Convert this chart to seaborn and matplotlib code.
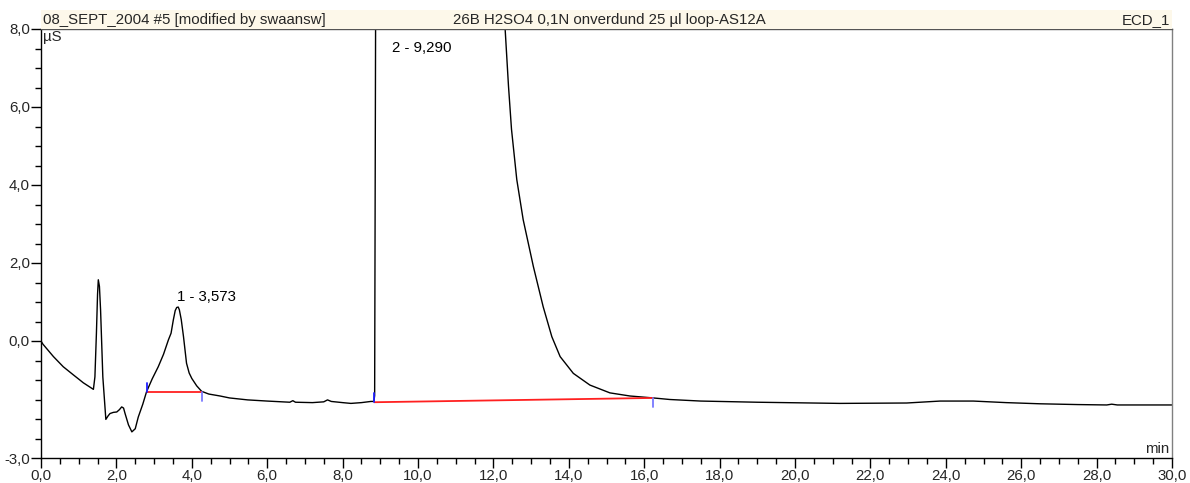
import numpy as np
import matplotlib
matplotlib.use("Agg")
import matplotlib.pyplot as plt
from matplotlib.patches import Rectangle
from matplotlib.ticker import FuncFormatter, FixedLocator
import seaborn as sns
import pandas as pd

# ---------------- data ----------------
time_min = [0.0, 0.05, 0.33, 0.59, 0.86, 1.03, 1.12, 1.39, 1.43, 1.47, 1.50, 1.52, 1.55,
            1.58, 1.64, 1.72, 1.78, 1.83, 1.92, 2.01, 2.08, 2.14, 2.19, 2.23, 2.32,
            2.41, 2.50, 2.58, 2.70, 2.80, 2.95, 3.11, 3.25, 3.38, 3.45, 3.51, 3.56,
            3.60, 3.64, 3.67, 3.72, 3.78, 3.86, 3.93, 4.00, 4.13, 4.26, 4.45, 4.75,
            5.0, 5.48, 6.0, 6.60, 6.68, 6.75, 7.2, 7.5, 7.6, 7.7, 8.0, 8.22, 8.5,
            8.75, 8.83, 8.85, 8.88, 9.29, 12.0, 12.2, 12.31, 12.40, 12.48, 12.62,
            12.79, 13.06, 13.32, 13.55, 13.77, 14.12, 14.56, 15.09, 15.62, 16.24,
            16.68, 17.5, 19.0, 21.19, 22.96, 23.85, 24.73, 25.6, 26.5, 27.5, 28.27,
            28.4, 28.55, 30.0]
signal_uS = [0.0, -0.08, -0.40, -0.66, -0.87, -1.00, -1.07, -1.24, -0.92, 0.20, 1.20,
             1.57, 1.40, 0.80, -0.92, -2.01, -1.92, -1.86, -1.83, -1.82, -1.76, -1.69,
             -1.72, -1.86, -2.15, -2.33, -2.25, -1.95, -1.62, -1.30, -0.97, -0.66,
             -0.34, 0.03, 0.20, 0.54, 0.78, 0.86, 0.87, 0.80, 0.55, 0.11, -0.57,
             -0.82, -0.96, -1.15, -1.29, -1.36, -1.41, -1.46, -1.51, -1.54, -1.57,
             -1.53, -1.57, -1.58, -1.56, -1.51, -1.55, -1.58, -1.60, -1.58, -1.55,
             -1.55, -1.40, 10.0, 40.0, 12.0, 9.5, 8.02, 6.54, 5.43, 4.14, 3.11, 1.91,
             0.88, 0.11, -0.40, -0.83, -1.13, -1.33, -1.41, -1.46, -1.50, -1.54,
             -1.57, -1.60, -1.59, -1.54, -1.54, -1.58, -1.61, -1.63, -1.64, -1.62,
             -1.64, -1.64]

peak_labels = ["1 - 3,573", "2 - 9,290"]
peak_times = [3.573, 9.290]
peak_label_y = [1.12, 7.52]

baseline_start_t = [2.80, 8.83]
baseline_start_v = [-1.30, -1.57]
baseline_end_t = [4.26, 16.24]
baseline_end_v = [-1.30, -1.46]

x_major = list(np.arange(0, 31, 2))
y_major = [-3, 0, 2, 4, 6, 8]

header_left = "08_SEPT_2004 #5 [modified by swaansw]"
header_center = "26B H2SO4 0,1N onverdund 25 µl loop-AS12A"
header_right = "ECD_1"
y_unit = "µS"
x_unit = "min"

# ---------------- style ----------------
FS = 10.8
sns.set_theme(style="ticks")
plt.rcParams["font.family"] = ["Liberation Sans", "DejaVu Sans"]
plt.rcParams["font.size"] = FS

W, H = 1190, 483
fig = plt.figure(figsize=(W / 100, H / 100), dpi=100)
fig.patch.set_facecolor("white")

ax_l, ax_r = 41 / W, 1172 / W
ax_b, ax_t = (H - 458) / H, (H - 29) / H
ax = fig.add_axes([ax_l, ax_b, ax_r - ax_l, ax_t - ax_b])
ax.set_facecolor("white")

df = pd.DataFrame({"t": time_min, "v": signal_uS})
sns.lineplot(data=df, x="t", y="v", ax=ax, color="black", linewidth=1.0,
             estimator=None, sort=False)

# baselines
for ts, vs, te, ve in zip(baseline_start_t, baseline_start_v, baseline_end_t, baseline_end_v):
    ax.plot([ts, te], [vs, ve], color="#ff2020", linewidth=1.3, solid_capstyle="butt", zorder=3)
    ax.plot([ts, ts], [vs, vs + 0.23], color="#1f1fff", linewidth=1.3, zorder=4)
    ax.plot([te, te], [ve, ve - 0.23], color="#7878ff", linewidth=1.3, zorder=4)

for lab, pt, py in zip(peak_labels, peak_times, peak_label_y):
    ax.text(pt + 0.03, py, lab, ha="left", va="center", fontsize=FS, color="black")

ax.set_xlim(0, 30)
ax.set_ylim(-3, 8)
ax.set_xlabel("")
ax.set_ylabel("")

fmt = FuncFormatter(lambda v, p: f"{v:.1f}".replace(".", ","))
ax.xaxis.set_major_locator(FixedLocator(x_major))
ax.xaxis.set_minor_locator(FixedLocator(list(np.arange(0, 30.01, 0.5))))
ax.yaxis.set_major_locator(FixedLocator(y_major))
ax.yaxis.set_minor_locator(FixedLocator(list(np.arange(-3, 8.01, 0.5))))
ax.xaxis.set_major_formatter(fmt)
ax.yaxis.set_major_formatter(fmt)
ax.tick_params(which="major", length=7, width=1, pad=1, labelsize=FS, color="black", direction="out")
ax.tick_params(which="minor", length=4, width=1, color="black", direction="out")

for s in ["left", "bottom"]:
    ax.spines[s].set_color("black")
    ax.spines[s].set_linewidth(1.0)
ax.spines["top"].set_color("#555555")
ax.spines["top"].set_linewidth(1.0)
ax.spines["right"].set_color("#808080")
ax.spines["right"].set_linewidth(1.0)
ax.spines["top"].set_visible(True)
ax.spines["right"].set_visible(True)

ax.text(0.002, 0.998, y_unit, transform=ax.transAxes, ha="left", va="top", fontsize=FS)
ax.text(0.998, 0.004, x_unit, transform=ax.transAxes, ha="right", va="bottom", fontsize=FS)

# header band
band_b = ax_t
band_t = (H - 10) / H
fig.patches.append(Rectangle((ax_l, band_b), ax_r - ax_l, band_t - band_b,
                             transform=fig.transFigure, facecolor="#fdf8ea",
                             edgecolor="none", zorder=0))
band_mid = (band_b + band_t) / 2 - 0.002
fig.text(ax_l + 2 / W, band_mid, header_left, ha="left", va="center", fontsize=FS)
fig.text(609 / W, band_mid, header_center, ha="center", va="center", fontsize=FS)
fig.text(ax_r - 2 / W, band_mid, header_right, ha="right", va="center", fontsize=FS)

fig.savefig("out.png", dpi=100)
